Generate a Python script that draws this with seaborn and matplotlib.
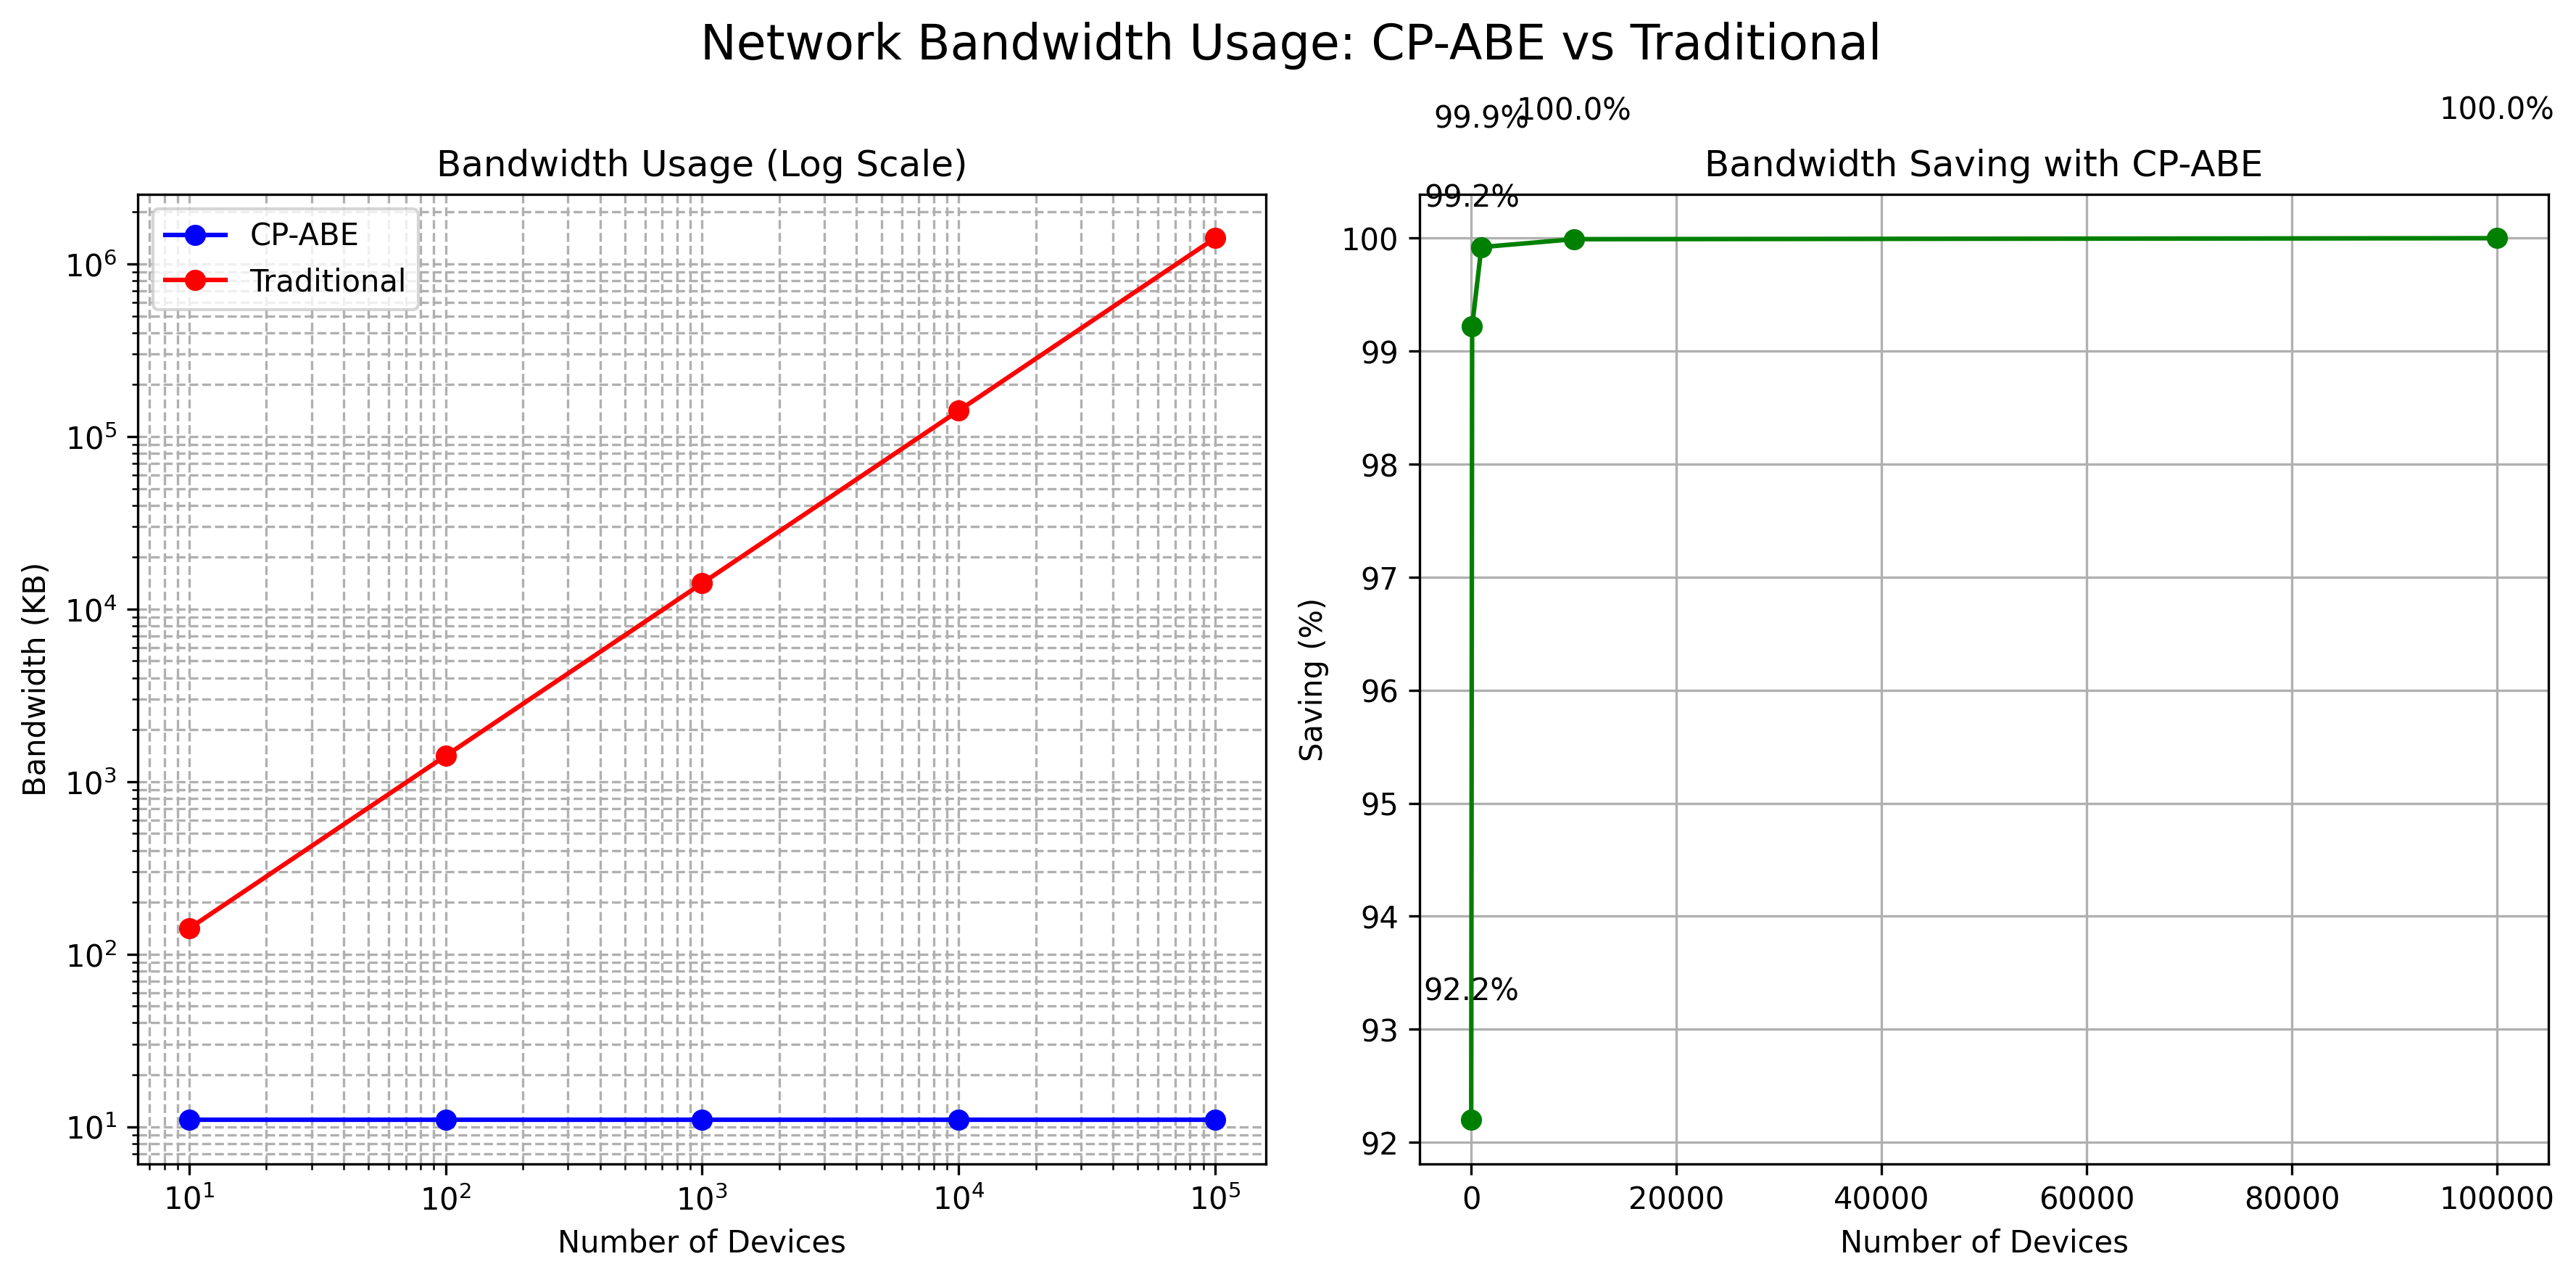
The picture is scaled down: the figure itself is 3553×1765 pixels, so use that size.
import numpy as np
import pandas as pd
import seaborn as sns
import matplotlib.pyplot as plt

# values
devices = [10, 100, 1000, 10000, 100000]
cpabe_kb = [11, 11, 11, 11, 11]
traditional_kb = [141, 1410, 14100, 141000, 1410000]
saving_pct = [92.2, 99.22, 99.92, 99.99, 99.999]

df = pd.DataFrame({
    'devices': devices,
    'cpabe': cpabe_kb,
    'traditional': traditional_kb,
    'saving': saving_pct,
})

fig, (ax1, ax2) = plt.subplots(1, 2, figsize=(12, 6))
fig.suptitle('Network Bandwidth Usage: CP-ABE vs Traditional', fontsize=16)

# left: bandwidth on log-log axes
sns.lineplot(data=df, x='devices', y='cpabe', marker='o', color='blue',
             markeredgecolor='blue', markeredgewidth=1, label='CP-ABE', ax=ax1)
sns.lineplot(data=df, x='devices', y='traditional', marker='o', color='red',
             markeredgecolor='red', markeredgewidth=1, label='Traditional', ax=ax1)
ax1.set_xscale('log')
ax1.set_yscale('log')
ax1.set_title('Bandwidth Usage (Log Scale)')
ax1.set_xlabel('Number of Devices')
ax1.set_ylabel('Bandwidth (KB)')
ax1.grid(True, which='both', ls='--')
ax1.legend(loc='upper left')

# right: saving percentage
sns.lineplot(data=df, x='devices', y='saving', marker='o', color='green',
             markeredgecolor='green', markeredgewidth=1, ax=ax2)
for x, y in zip(devices, saving_pct):
    ax2.text(x, y + 1, f'{y:.1f}%', ha='center', va='bottom')
ax2.set_title('Bandwidth Saving with CP-ABE')
ax2.set_xlabel('Number of Devices')
ax2.set_ylabel('Saving (%)')
ax2.grid(True)

plt.tight_layout()
# a little less room between the suptitle and the axes
fig.subplots_adjust(top=fig.subplotpars.top + 0.009)
plt.savefig('out.png', dpi=300, bbox_inches='tight')
